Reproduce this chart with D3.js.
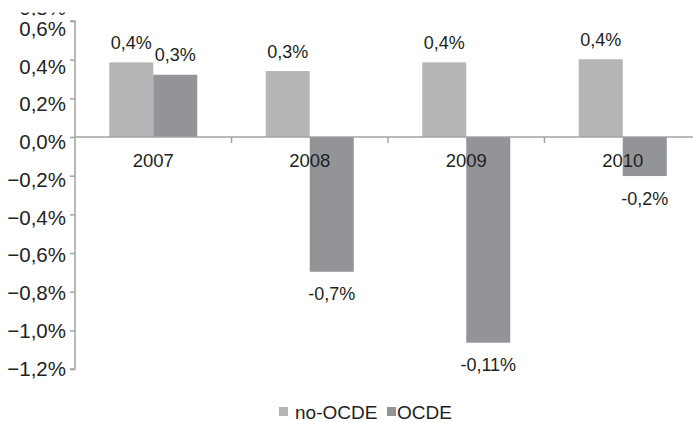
<!DOCTYPE html>
<html>
<head>
<meta charset="utf-8">
<script src="https://cdn.jsdelivr.net/npm/d3@7/dist/d3.min.js"></script>
<style>
  html, body { margin: 0; padding: 0; background: #fff; }
  svg { display: block; font-family: "Liberation Sans", Arial, sans-serif; }
</style>
</head>
<body>
<svg id="chart" width="693" height="422"></svg>
<script>
const categories = ["2007", "2008", "2009", "2010"];
const series = ["no-OCDE", "OCDE"];
const noOcdeValues = [0.386, 0.341, 0.386, 0.402];
const ocdeValues = [0.322, -0.697, -1.064, -0.202];
const noOcdeLabels = ["0,4%", "0,3%", "0,4%", "0,4%"];
const ocdeLabels = ["0,3%", "-0,7%", "-0,11%", "-0,2%"];
const yTicks = [-1.2, -1.0, -0.8, -0.6, -0.4, -0.2, 0.0, 0.2, 0.4, 0.6];
const colors = ["#b4b5b7", "#939497"];

const rows = categories.map((c, i) => ({
  cat: c,
  vals: [
    { s: series[0], v: noOcdeValues[i], label: noOcdeLabels[i] },
    { s: series[1], v: ocdeValues[i], label: ocdeLabels[i] }
  ]
}));

const svg = d3.select("#chart");
const textColor = "#231f20";
const axisColor = "#a3a3a3";

const y = d3.scaleLinear().domain([-1.2, 0.6]).range([369, 21]);
// tick labels in the source sit on a slightly tighter spacing than the ticks
const yLab = d3.scaleLinear().domain([-1.2, 0.6]).range([367.5, 28]);
const x = d3.scaleBand().domain(categories).range([75, 701]).paddingInner(0).paddingOuter(0);
const bw = x.bandwidth();
const inner = d3.scaleBand().domain(series).range([34.25, bw - 34.25]).padding(0);
const color = d3.scaleOrdinal().domain(series).range(colors);

const locale = d3.formatLocale({ decimal: ",", thousands: ".", grouping: [3], currency: ["", "€"] });
const fmt = locale.format(".1f");

// partial clipped top label (0,8%) cut by the image edge
svg.append("clipPath").attr("id", "topclip")
  .append("rect").attr("x", 0).attr("y", 12.5).attr("width", 80).attr("height", 3);
svg.append("text")
  .attr("clip-path", "url(#topclip)")
  .attr("x", 66).attr("y", 15)
  .attr("text-anchor", "end")
  .attr("font-size", 20.5).attr("fill", textColor)
  .text(fmt(0.8) + "%");

// bars
const g = svg.append("g");
const groups = g.selectAll("g.cat").data(rows).join("g")
  .attr("class", "cat")
  .attr("transform", d => `translate(${x(d.cat)},0)`);

groups.selectAll("rect").data(d => d.vals).join("rect")
  .attr("x", d => inner(d.s))
  .attr("width", inner.bandwidth())
  .attr("y", d => Math.min(y(d.v), y(0)))
  .attr("height", d => Math.abs(y(d.v) - y(0)))
  .attr("fill", d => color(d.s));

groups.selectAll("text.val").data(d => d.vals).join("text")
  .attr("class", "val")
  .attr("x", d => inner(d.s) + inner.bandwidth() / 2)
  .attr("y", d => d.v >= 0 ? y(d.v) - 13.5 : y(d.v) + 28.5)
  .attr("text-anchor", "middle")
  .attr("font-size", 18)
  .attr("fill", textColor)
  .text(d => d.label);

// y axis
const yAxis = d3.axisLeft(y).tickValues(yTicks).tickSize(5).tickPadding(4)
  .tickFormat(d => fmt(d) + "%");
const ya = svg.append("g").attr("transform", "translate(75,0)").call(yAxis);
ya.select(".domain").attr("stroke", axisColor).attr("stroke-width", 1.5).attr("d", `M-5,${y(0.6)}H0V${y(-1.2)}H-5`);
ya.selectAll(".tick line").attr("stroke", axisColor).attr("stroke-width", 1.5);
ya.selectAll(".tick text")
  .attr("font-size", 20.5).attr("fill", textColor)
  .attr("font-family", "Liberation Sans, Arial, sans-serif")
  .attr("x", -9)
  .attr("dy", null)
  .attr("y", d => yLab(d) - y(d))
  .attr("dominant-baseline", "central");

// x axis at zero
const xa = svg.append("g").attr("transform", `translate(0,${y(0)})`);
xa.append("line").attr("x1", 75).attr("x2", 693).attr("y1", 0).attr("y2", 0)
  .attr("stroke", axisColor).attr("stroke-width", 1.5);
xa.selectAll("line.tk").data(categories.slice(1)).join("line")
  .attr("class", "tk")
  .attr("x1", d => x(d)).attr("x2", d => x(d))
  .attr("y1", 0).attr("y2", 6)
  .attr("stroke", axisColor).attr("stroke-width", 1.5);
xa.selectAll("text.cat").data(categories).join("text")
  .attr("class", "cat")
  .attr("x", d => x(d) + bw / 2)
  .attr("y", 30)
  .attr("text-anchor", "middle")
  .attr("font-size", 18.5)
  .attr("fill", textColor)
  .text(d => d);

// legend
const legendX = [279, 387];
const lg = svg.append("g");
series.forEach((s, i) => {
  lg.append("rect").attr("x", legendX[i]).attr("y", 407).attr("width", 9).attr("height", 9).attr("fill", color(s));
  lg.append("text").attr("x", legendX[i] + (i ? 10 : 16)).attr("y", 419)
    .attr("font-size", 19).attr("fill", textColor).text(s);
});
</script>
</body>
</html>
